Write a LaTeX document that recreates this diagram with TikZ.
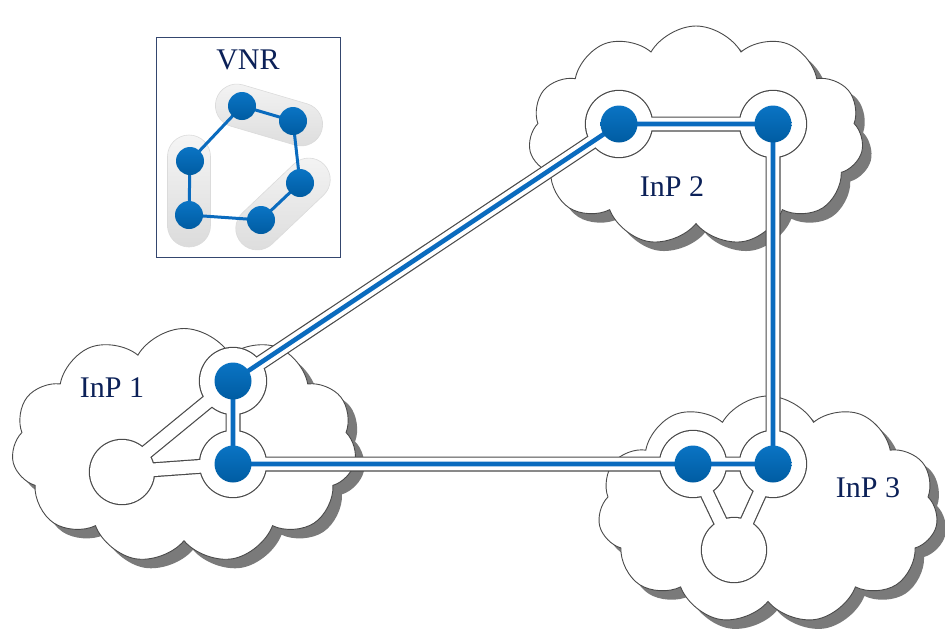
\documentclass[tikz,border=0pt]{standalone}
\usepackage{fontspec}
\setmainfont{Liberation Serif}
\usetikzlibrary{shapes.symbols,shadows}
\definecolor{navy}{HTML}{0C2158}
\definecolor{linkblue}{HTML}{0A6BBE}
\definecolor{dotTop}{HTML}{0A74C4}
\definecolor{dotBot}{HTML}{005CA2}
\definecolor{outl}{HTML}{4A4A4A}
\definecolor{boxline}{HTML}{34466E}
\begin{document}
\begin{tikzpicture}[x=1pt,y=-1pt,
  cloudshape/.style={cloud, cloud puffs=11, cloud puff arc=120, cloud ignores aspect,
    draw=outl, line width=0.9pt, fill=white, inner sep=0pt, font=\normalsize,
    drop shadow={shadow xshift=9pt, shadow yshift=-9pt, fill=black!52, opacity=1}},
  label/.style={text=navy, font=\fontsize{30}{34}\selectfont, inner sep=0pt},
  pipeout/.style={line width=15pt, draw=outl},
  pipein/.style={line width=12.6pt, draw=white},
  ringout/.style={circle, fill=outl, minimum size=#1+2.4pt, inner sep=0pt},
  ringin/.style={circle, fill=white, minimum size=#1, inner sep=0pt},
  bluelink/.style={line width=4.6pt, draw=linkblue},
  bluedot/.style={circle, top color=dotTop, bottom color=dotBot, minimum size=37pt, inner sep=0pt},
  vlink/.style={line width=3pt, draw=linkblue},
  vdot/.style={circle, top color=dotTop, bottom color=dotBot, minimum size=28pt, inner sep=0pt},
  pill/.style={rectangle, rounded corners=21.5pt, minimum height=43pt, inner sep=0pt,
    top color=black!4, bottom color=black!14, draw=black!14, line width=0.6pt}]
\useasboundingbox (0,0) rectangle (945,633);

% ---------- virtual network request ----------
\draw[boxline, line width=0.8pt, fill=white] (156,37) rectangle (340,257);
\node[label] (vnr) at (248,60) {VNR};
\node[pill, minimum width=110pt, rotate=-16.4] (g1) at (269,115) {};
\node[pill, minimum width=112pt, rotate=90] (g2) at (189,191) {};
\node[pill, minimum width=114pt, rotate=43.5] (g3) at (283,204) {};
\coordinate (va) at (242,106);
\coordinate (vb) at (293,121);
\coordinate (vc) at (300,183);
\coordinate (vd) at (261,220);
\coordinate (ve) at (189,215);
\coordinate (vf) at (190,161);
\draw[vlink] (va) -- (vb) -- (vc) -- (vd) -- (ve) -- (vf) -- cycle;
\foreach \v in {va,vb,vc,vd,ve,vf} \node[vdot] (n\v) at (\v) {};

% ---------- infrastructure provider clouds ----------
\node[cloudshape, minimum width=345pt, minimum height=235pt] (c1) at (184,446) {};
\node[cloudshape, minimum width=335pt, minimum height=220pt] (c2) at (696,136) {};
\node[cloudshape, minimum width=340pt, minimum height=228pt] (c3) at (768,510) {};

% ---------- substrate nodes ----------
\coordinate (A1) at (233,381);
\coordinate (B1) at (233,464);
\coordinate (W1) at (122,472);
\coordinate (A2) at (619,124);
\coordinate (B2) at (773,124);
\coordinate (A3) at (693,464);
\coordinate (B3) at (773,464);
\coordinate (W3) at (734,550);

% outlines of pipes and rings
\draw[pipeout] (W1) -- (A1) (W1) -- (B1) (A1) -- (B1) (A1) -- (A2) (A2) -- (B2)
  (B2) -- (B3) (B1) -- (A3) (A3) -- (B3) (W3) -- (A3) (W3) -- (B3);
\foreach \p in {A1,B1,A2,B2,A3,B3} \node[ringout=66pt] at (\p) {};
\foreach \p in {W1,W3} \node[ringout=64pt] at (\p) {};
% white interiors
\draw[pipein] (W1) -- (A1) (W1) -- (B1) (A1) -- (B1) (A1) -- (A2) (A2) -- (B2)
  (B2) -- (B3) (B1) -- (A3) (A3) -- (B3) (W3) -- (A3) (W3) -- (B3);
\foreach \p in {A1,B1,A2,B2,A3,B3} \node[ringin=66pt] (r\p) at (\p) {};
\foreach \p in {W1,W3} \node[ringin=64pt] (w\p) at (\p) {};

% embedded virtual links
\draw[bluelink] (A1) -- (B1) (A1) -- (A2) (A2) -- (B2) (B2) -- (B3)
  (B1) -- (A3) (A3) -- (B3);
\foreach \p in {A1,B1,A2,B2,A3,B3} \node[bluedot] (d\p) at (\p) {};

% ---------- labels ----------
\node[label] (l1) at (112,388) {InP 1};
\node[label] (l2) at (672,187) {InP 2};
\node[label] (l3) at (868,488) {InP 3};
\end{tikzpicture}
\end{document}
